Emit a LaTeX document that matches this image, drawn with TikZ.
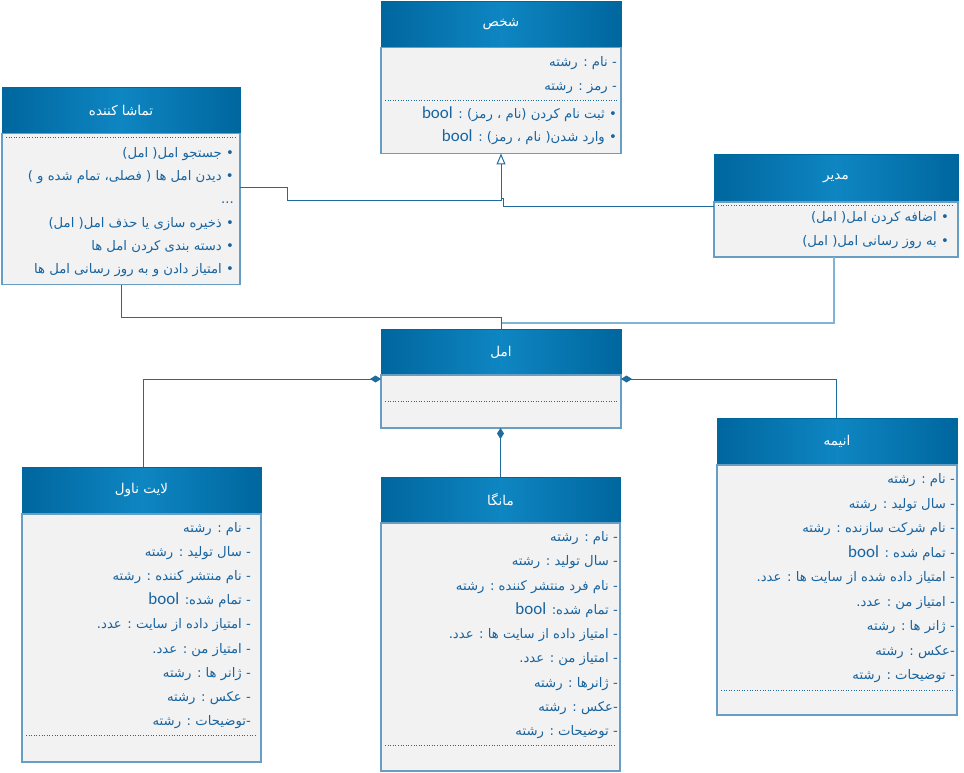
\documentclass[tikz,border=0pt]{standalone}
\usepackage{fontspec}
\usetikzlibrary{arrows.meta,positioning}
\newfontfamily\fafont[Script=Arabic]{DejaVu Sans}
\newfontfamily\latfont{Carlito}
\TeXXeTstate=1

\definecolor{headdark}{RGB}{0,102,158}
\definecolor{headlight}{RGB}{14,134,194}
\definecolor{boxline}{RGB}{104,158,196}
\definecolor{boxfill}{RGB}{242,242,242}
\definecolor{txtblue}{RGB}{24,100,160}
\definecolor{linkdark}{RGB}{30,108,158}
\definecolor{linklight}{RGB}{128,180,210}

\newcommand{\typebool}{{\latfont\fontsize{17}{17}\selectfont bool}}
\newcommand{\rtltext}[1]{\beginR#1\endR}

\tikzset{
  head/.style={draw=headdark, line width=1pt, left color=headdark, right color=headdark,
               middle color=headlight, minimum width=240pt, minimum height=46pt,
               outer sep=0pt, text=white, font=\fafont\fontsize{13.5}{15}\selectfont},
  body/.style={draw=boxline, line width=1.2pt, fill=boxfill, minimum width=240pt,
               outer sep=0pt, inner sep=0pt},
  row/.style={anchor=east, inner sep=0pt, text=txtblue,
              font=\fafont\fontsize{13.2}{15}\selectfont, text height=11pt, text depth=4pt},
  sep/.style={draw=linkdark, dotted, line width=0.6pt},
  assoc/.style={draw=linkdark, line width=1pt},
  assocl/.style={draw=linklight, line width=2pt},
  gen/.style={assoc, -{Triangle[open, width=9pt, length=11pt, fill=white]}},
  comp/.style={assoc, -{Diamond[width=7pt, length=11pt, fill=linkdark]}}
}

\begin{document}
\begin{tikzpicture}[x=1pt,y=-1pt]
\useasboundingbox (0,0) rectangle (964,773);

% class headers
\begin{scope}[every node/.style={head}]
    \node (person)  at (501  ,24.5 ) {\rtltext{شخص}};
    \node (viewer)  at (121  ,110.5) [minimum width=238pt] {\rtltext{تماشا کننده}};
    \node (manager) at (836  ,178.5) [minimum width=244pt,minimum height=47pt] {\rtltext{مدیر}};
    \node (amal)    at (501  ,352  ) {\rtltext{امل}};
    \node (novel)   at (141.5,490.5) [minimum width=239pt,minimum height=47pt] {\rtltext{لایت ناول}};
    \node (manga)   at (500.5,500  ) [minimum width=239pt] {\rtltext{مانگا}};
    \node (anime)   at (837  ,441.5) [minimum height=47pt] {\rtltext{انیمه}};
\end{scope}

% class bodies
\node[body, minimum height=106pt, below=0pt of person]                      (personb)  {};
\node[body, minimum height=151pt, minimum width=238pt, below=0pt of viewer] (viewerb)  {};
\node[body, minimum height=55pt,  minimum width=244pt, below=0pt of manager](managerb) {};
\node[body, minimum height=53pt,  below=0pt of amal]                        (amalb)    {};
\node[body, minimum height=248pt, minimum width=239pt, below=0pt of novel]  (novelb)   {};
\node[body, minimum height=248pt, minimum width=239pt, below=0pt of manga]  (mangab)   {};
\node[body, minimum height=250pt, below=0pt of anime]                       (animeb)   {};

% separators
\draw[sep] (385,100) -- (617,100);
\draw[sep] (6  ,137) -- (236,137);
\draw[sep] (718,205) -- (954,205);
\draw[sep] (385,401) -- (617,401);
\draw[sep] (26 ,735) -- (257,735);
\draw[sep] (385,745) -- (616,745);
\draw[sep] (721,690) -- (953,690);

% rows
\foreach \t [count=\i] in {{- نام : رشته},{- رمز : رشته}}
    \node[row] (persona\i) at (617,39+24*\i) {\rtltext{\t}};
\foreach \t [count=\i] in {{• ثبت نام کردن (نام ، رمز) : \typebool},
                           {• وارد شدن( نام ، رمز) : \typebool}}
    \node[row] (personm\i) at (617,91.5+23.5*\i) {\rtltext{\t}};

\foreach \t [count=\i] in {{• جستجو امل( امل)},{• دیدن امل ها ( فصلی، تمام شده و )},{.{}.{}.},
                           {• ذخیره سازی یا حذف امل( امل)},{• دسته بندی کردن امل ها},
                           {• امتیاز دادن و به روز رسانی امل ها}}
    \node[row] (viewerm\i) at (234,130.8+23.2*\i) {\rtltext{\t}};

\foreach \t [count=\i] in {{• اضافه کردن امل( امل)},{• به روز رسانی امل( امل)}}
    \node[row] (managerm\i) at (949,194+24*\i) {\rtltext{\t}};

\foreach \t [count=\i] in {{- نام : رشته},{- سال تولید : رشته},{- نام منتشر کننده : رشته},
                           {- تمام شده: \typebool},{- امتیاز داده از سایت : عدد.},
                           {- امتیاز من : عدد.},{- ژانر ها : رشته},{- عکس : رشته},
                           {-توضیحات : رشته}}
    \node[row] (novela\i) at (251,504.9+24.1*\i) {\rtltext{\t}};

\foreach \t [count=\i] in {{- نام : رشته},{- سال تولید : رشته},{- نام فرد منتشر کننده : رشته},
                           {- تمام شده: \typebool},{- امتیاز داده از سایت ها : عدد.},
                           {- امتیاز من : عدد.},{- ژانرها : رشته},{-عکس : رشته},
                           {- توضیحات : رشته}}
    \node[row] (mangaa\i) at (618,513.75+24.25*\i) {\rtltext{\t}};

\foreach \t [count=\i] in {{- نام : رشته},{- سال تولید : رشته},{- نام شرکت سازنده : رشته},
                           {- تمام شده : \typebool},{- امتیاز داده شده از سایت ها : عدد.},
                           {- امتیاز من : عدد.},{- ژانر ها : رشته},{-عکس : رشته},
                           {- توضیحات : رشته}}
    \node[row] (animea\i) at (955,455.5+24.5*\i) {\rtltext{\t}};

% connectors
\draw[gen]    ([yshift=21.5pt]viewerb.east) -| (287,200.5) -| (personb.south);
\draw[assoc]  ([yshift=23pt]managerb.west) -| (503,198) -- (501,198);
\draw[assoc]  (viewerb.south) |- (501,317.5) -- (amal.north);
\draw[assocl] ([xshift=-2pt]managerb.south) |- (502,322.5);
\draw[comp]   ([xshift=1.5pt]novel.north) |- ([yshift=22.5pt]amalb.west);
\draw[comp]   (manga.north) -- (manga.north |- amalb.south);
\draw[comp]   ([xshift=-1pt]anime.north) |- ([yshift=22.5pt]amalb.east);
\end{tikzpicture}
\end{document}
